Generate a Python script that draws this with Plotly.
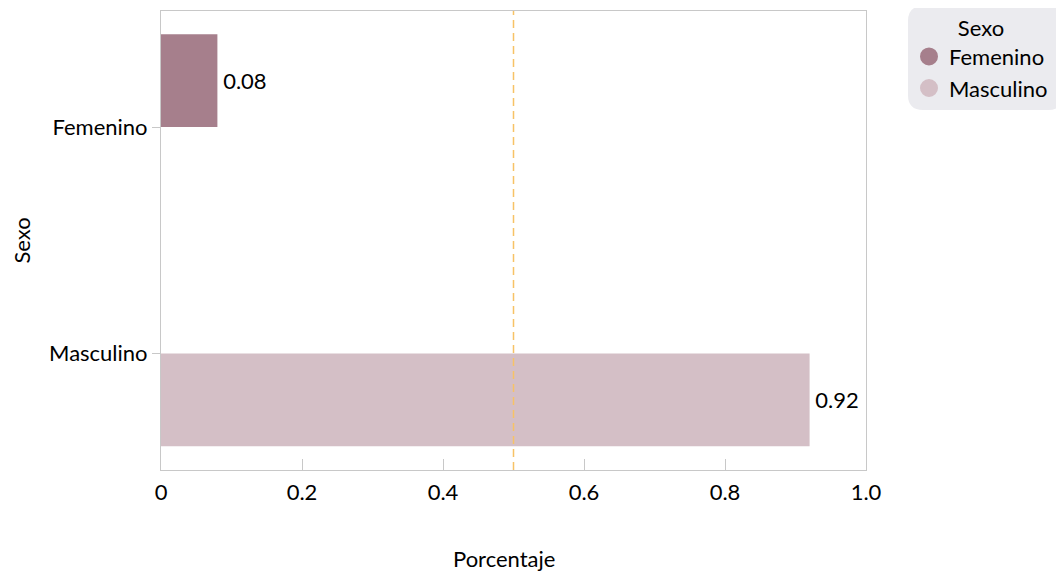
import plotly.graph_objects as go

# ---- data ----
categories = ["Femenino", "Masculino"]
values = [0.08, 0.92]
bar_colors = ["#a67f8c", "#d4bfc6"]
x_tickvals = [0, 0.2, 0.4, 0.6, 0.8, 1.0]
x_ticktext = ["0", "0.2", "0.4", "0.6", "0.8", "1.0"]
reference_value = 0.5
legend_title = "Sexo"
x_title = "Porcentaje"
y_title = "Sexo"

FONT = "Source Sans Pro, Lato, sans-serif"
FS = 22
OFF = 8  # page body margin
W, H = 1064 - OFF, 573 - OFF
PLOT_L, PLOT_R, PLOT_T, PLOT_B = 161, 866, 11, 470  # in page pixels
ML = PLOT_L - OFF
MT = PLOT_T - OFF
MR = W - (PLOT_R - OFF)
MB = H - (PLOT_B - OFF)
PW, PH = PLOT_R - PLOT_L, PLOT_B - PLOT_T

def px_x(p):
    return (p - PLOT_L) / PW

def px_y(p):
    return (PLOT_B - p) / PH

BAR_W = 0.41
bar_offsets = [-BAR_W, 0.0]

fig = go.Figure()

for cat, val, col, off in zip(categories, values, bar_colors, bar_offsets):
    fig.add_trace(go.Bar(
        y=[cat], x=[val], orientation="h", name=cat,
        width=BAR_W, offset=off,
        marker=dict(color=col, line=dict(width=0)),
        text=["\u2009" + f"{val:.2f}"], textposition="outside",
        textfont=dict(family=FONT, size=FS, color="#000000"),
        cliponaxis=False, showlegend=False,
    ))

for cat, col in zip(categories, bar_colors):
    fig.add_trace(go.Scatter(
        x=[None], y=[None], mode="markers", name=cat,
        marker=dict(symbol="circle", size=16, color=col, line=dict(color=col, width=2)),
        showlegend=True,
    ))

# rounded legend background
x0, x1 = px_x(908), px_x(1063)
y0, y1 = px_y(110), px_y(6)
rx, ry = 15 / PW, 15 / PH
path = (f"M {x0+rx},{y1} L {x1-rx},{y1} Q {x1},{y1} {x1},{y1-ry} "
        f"L {x1},{y0+ry} Q {x1},{y0} {x1-rx},{y0} L {x0+rx},{y0} "
        f"Q {x0},{y0} {x0},{y0+ry} L {x0},{y1-ry} Q {x0},{y1} {x0+rx},{y1} Z")
fig.add_shape(type="path", path=path, xref="paper", yref="paper",
              fillcolor="#ebebef", line=dict(width=0), layer="below")

# reference line
fig.add_shape(type="line", x0=reference_value, x1=reference_value, xref="x",
              y0=0, y1=1, yref="paper",
              line=dict(color="#f7c266", width=1.5, dash="8px,5px"), layer="above")

fig.add_annotation(text=x_title, x=px_x(504), y=px_y(558), xref="paper", yref="paper",
                   showarrow=False, xanchor="center", yanchor="middle",
                   font=dict(family=FONT, size=FS, color="#000000"))
fig.add_annotation(text=y_title, x=px_x(21), y=0.5, xref="paper", yref="paper",
                   showarrow=False, xanchor="center", yanchor="middle", textangle=-90,
                   font=dict(family=FONT, size=FS, color="#000000"))

fig.update_layout(
    width=W, height=H,
    margin=dict(l=ML, r=MR, t=MT, b=MB, autoexpand=False),
    paper_bgcolor="white", plot_bgcolor="white",
    font=dict(family=FONT, size=FS, color="#000000"),
    barmode="overlay",
    legend=dict(
        x=px_x(909), y=px_y(7), xanchor="left", yanchor="top",
        bgcolor="rgba(0,0,0,0)", borderwidth=0,
        title=dict(text=legend_title, side="top center", font=dict(family=FONT, size=FS)),
        font=dict(family=FONT, size=FS, color="#000000"),
        tracegroupgap=0,
    ),
    xaxis=dict(
        range=[0, 1], tickvals=x_tickvals, ticktext=x_ticktext,
        showgrid=False, zeroline=False,
        showline=True, mirror=True, linecolor="#c8c8c8", linewidth=1,
        ticks="inside", ticklen=11, tickcolor="#c8c8c8", tickwidth=1,
        ticklabelstandoff=3,
        tickfont=dict(family=FONT, size=FS, color="#000000"),
    ),
    yaxis=dict(
        categoryorder="array", categoryarray=categories,
        range=[1.515, -0.513],
        showgrid=False, zeroline=False,
        showline=True, mirror=True, linecolor="#c8c8c8", linewidth=1,
        ticks="outside", ticklen=8, tickcolor="#c8c8c8", tickwidth=1,
        ticklabelstandoff=0,
        tickfont=dict(family=FONT, size=FS, color="#000000"),
    ),
)

fig.write_html("out.html")
